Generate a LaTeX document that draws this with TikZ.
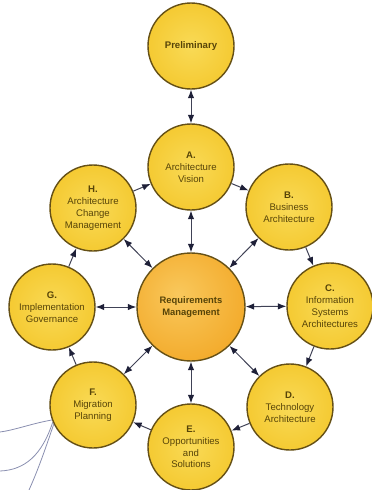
\documentclass[tikz,border=0pt]{standalone}
\usepackage{fontspec}
\setmainfont{Liberation Sans}
\usetikzlibrary{arrows.meta}

\definecolor{phaseLight}{HTML}{F9DA56}
\definecolor{phaseFill}{HTML}{F4C82E}
\definecolor{phaseEdge}{HTML}{EBBA24}
\definecolor{hubLight}{HTML}{F9C85C}
\definecolor{hubFill}{HTML}{F3AB2C}
\definecolor{hubEdge}{HTML}{EB9E22}
\definecolor{rim}{HTML}{655016}
\definecolor{ink}{HTML}{574408}
\definecolor{link}{HTML}{404256}
\definecolor{tipc}{HTML}{1E2038}
\definecolor{wire}{HTML}{8A8FB0}

\pgfdeclareradialshading{phaseball}{\pgfpoint{0bp}{0bp}}%
  {color(0bp)=(phaseLight); color(28bp)=(phaseFill); color(50bp)=(phaseEdge); color(72bp)=(phaseEdge)}
\pgfdeclareradialshading{hubball}{\pgfpoint{-6bp}{6bp}}%
  {color(0bp)=(hubLight); color(30bp)=(hubFill); color(50bp)=(hubEdge); color(72bp)=(hubEdge)}

\tikzset{
  phase/.style={circle, minimum size=86pt, inner sep=0pt, draw=rim, line width=1.4pt,
    shading=phaseball, text=ink, align=center,
    font=\fontsize{9.6}{11.8}\selectfont},
  hub/.style={circle, minimum size=108pt, inner sep=0pt, draw=rim, line width=1.4pt,
    shading=hubball, text=ink, align=center,
    font=\fontsize{9.4}{11.8}\selectfont\bfseries},
  flow/.style={draw=link, line width=1pt, ->},
  both/.style={draw=link, line width=1pt, <->},
  wirestyle/.style={draw=wire, line width=0.8pt}
}

\begin{document}
\begin{tikzpicture}[x=1pt, y=-1pt, >={Latex[length=8.5pt,width=6.5pt,color=tipc]}]
  \useasboundingbox (0,0) rectangle (372,490);

  % phases of the cycle
  \node[phase] (P) at (191,46)  {\textbf{Preliminary}};
  \node[phase] (A) at (191,167) {\textbf{A.}\\Architecture\\Vision};
  \node[phase] (B) at (289,207) {\textbf{B.}\\Business\\Architecture};
  \node[phase] (C) at (330,306) {\textbf{C.}\\Information\\Systems\\Architectures};
  \node[phase] (D) at (290,407) {\textbf{D.}\\Technology\\Architecture};
  \node[phase] (E) at (191,447) {\textbf{E.}\\Opportunities\\and\\Solutions};
  \node[phase] (F) at (93,405)  {\textbf{F.}\\Migration\\Planning};
  \node[phase] (G) at (52,307)  {\textbf{G.}\\Implementation\\Governance};
  \node[phase] (H) at (93,208)  {\textbf{H.}\\Architecture\\Change\\Management};

  % central hub
  \node[hub] (R) at (191,307) {Requirements\\Management};

  % preliminary link
  \draw[both] (P) -- (A);

  % cycle A -> H
  \draw[flow] (A) -- (B);
  \draw[flow] (B) -- (C);
  \draw[flow] (C) -- (D);
  \draw[flow] (D) -- (E);
  \draw[flow] (E) -- (F);
  \draw[flow] (F) -- (G);
  \draw[flow] (G) -- (H);
  \draw[flow] (H) -- (A);

  % spokes to the hub
  \foreach \n in {A,B,C,D,E,F,G,H}
    \draw[both] (R) -- (\n);

  % leader wires leaving phase F
  \coordinate (w1) at (0,432);
  \coordinate (w2) at (0,471);
  \coordinate (w3) at (29,490);
  \draw[wirestyle] (F.200) .. controls (30,424) and (15,430) .. (w1);
  \draw[wirestyle] (F.203) .. controls (42,455) and (25,470) .. (w2);
  \draw[wirestyle] (F.206) .. controls (45,450) and (38,470) .. (w3);
\end{tikzpicture}
\end{document}
